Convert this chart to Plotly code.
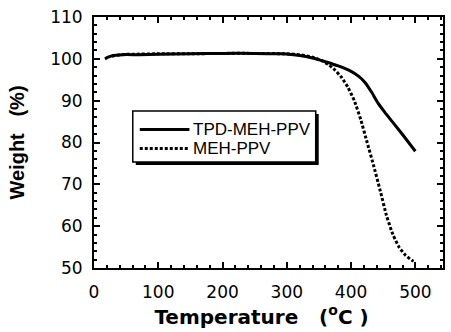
import plotly.graph_objects as go

# ---- data ----
temp_tpd = [17, 22, 30, 45, 70, 100, 150, 200, 250, 290, 320, 340, 360, 380, 400, 412, 422, 432, 442, 452, 465, 480, 500]
weight_tpd = [100.0, 100.4, 100.8, 101.0, 101.0, 101.1, 101.2, 101.3, 101.3, 101.2, 100.8, 100.2, 99.3, 98.3, 97.0, 95.8, 94.3, 92.0, 89.4, 87.3, 84.8, 81.9, 77.9]

temp_meh = [28, 40, 60, 100, 150, 200, 250, 300, 320, 340, 355, 365, 375, 385, 395, 405, 415, 425, 435, 445, 455, 465, 475, 485, 495, 500]
weight_meh = [100.6, 101.0, 101.1, 101.2, 101.2, 101.3, 101.3, 101.2, 101.0, 100.4, 99.5, 98.6, 97.3, 95.6, 93.2, 90.0, 85.5, 80.0, 74.5, 68.7, 62.6, 58.0, 54.9, 53.0, 51.8, 51.4]

series_names = ["TPD-MEH-PPV", "MEH-PPV"]
x_title = "Temperature   (<sup>o</sup>C )&nbsp;&nbsp;"
y_title = "Weight   (%)"

fig = go.Figure()
fig.add_trace(go.Scatter(x=temp_tpd, y=weight_tpd, mode="lines", name=series_names[0],
                         line=dict(color="black", width=3, shape="spline", smoothing=0.5),
                         showlegend=False))
fig.add_trace(go.Scatter(x=temp_meh, y=weight_meh, mode="lines", name=series_names[1],
                         line=dict(color="black", width=3, dash="3px,2px", shape="spline", smoothing=0.5),
                         showlegend=False))

tick_font = dict(family="DejaVu Sans, sans-serif", size=17, color="black")
xtitle_font = dict(family="DejaVu Sans, sans-serif", size=20, color="black", weight="bold")
ytitle_font = dict(family="Liberation Sans, Arial, sans-serif", size=20, color="black", weight="bold")

axis_common = dict(showline=True, linecolor="black", linewidth=2, mirror="allticks",
                   ticks="inside", ticklen=6, tickwidth=1.5, tickcolor="black",
                   showgrid=False, zeroline=False, tickfont=tick_font)

fig.update_xaxes(range=[0, 543], tick0=0, dtick=100,
                 minor=dict(ticks="inside", ticklen=3, tickwidth=1.5, tickcolor="black", dtick=20, showgrid=False),
                 title=dict(text=x_title, font=xtitle_font, standoff=8),
                 ticklabelstandoff=8, **axis_common)
fig.update_yaxes(range=[50, 110], tick0=50, dtick=10,
                 minor=dict(ticks="inside", ticklen=3, tickwidth=1.5, tickcolor="black", dtick=2, showgrid=False),
                 title=dict(text=y_title, font=ytitle_font, standoff=20),
                 ticklabelstandoff=6, **axis_common)

# ---- hand-drawn legend box (paper coordinates), with drop shadow ----
box = dict(x0=0.1111, x1=0.6353, y0=0.4223, y1=0.6255)
shadow_dx, shadow_dy = 0.0086, 0.0120
fig.add_shape(type="rect", xref="paper", yref="paper",
              x0=box["x0"] + shadow_dx, x1=box["x1"] + shadow_dx,
              y0=box["y0"] - shadow_dy, y1=box["y1"] - shadow_dy,
              fillcolor="black", line=dict(width=0), layer="above")
fig.add_shape(type="rect", xref="paper", yref="paper", **box,
              fillcolor="white", line=dict(color="black", width=1.5), layer="above")

key_x0, key_x1, text_x = 0.1311, 0.2735, 0.2821
row_y = [0.5518, 0.4761]
key_styles = [dict(color="black", width=3), dict(color="black", width=3, dash="3px,2px")]
for name, yy, st in zip(series_names, row_y, key_styles):
    fig.add_shape(type="line", xref="paper", yref="paper", x0=key_x0, x1=key_x1, y0=yy, y1=yy,
                  line=st, layer="above")
    fig.add_annotation(text=name, xref="paper", yref="paper", x=text_x, y=yy,
                       xanchor="left", yanchor="middle", showarrow=False, borderpad=0,
                       font=dict(family="Liberation Sans, Arial, sans-serif", size=17, color="black"))

fig.update_layout(
    width=451, height=332,
    margin=dict(l=94, r=6, t=17, b=64),
    paper_bgcolor="white", plot_bgcolor="white",
    showlegend=False,
)

fig.write_html("out.html")
